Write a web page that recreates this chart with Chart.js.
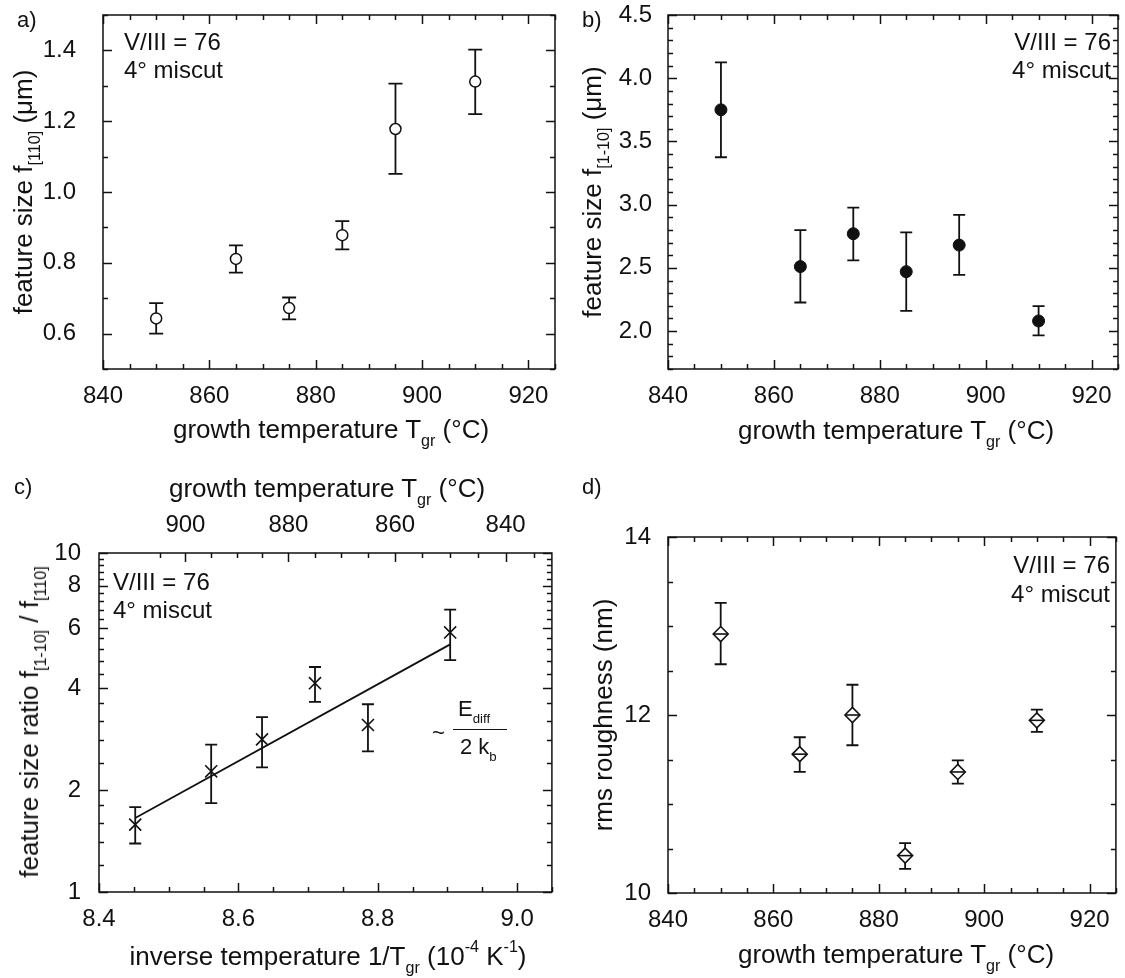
<!DOCTYPE html>
<html>
<head>
<meta charset="utf-8">
<script src="https://cdn.jsdelivr.net/npm/chart.js@4.4.1/dist/chart.umd.min.js"></script>
<style>
html, body { margin: 0; padding: 0; background: #fff; }
#wrap { position: relative; width: 1125px; height: 978px; overflow: hidden;
        font-family: "Liberation Sans", Arial, sans-serif; color: #111; }
#wrap canvas { position: absolute; }
.t { position: absolute; white-space: nowrap; line-height: 1; }
.sb { font-size: 62%; position: relative; top: 0.5em; }
.sp { font-size: 62%; position: relative; top: -0.8em; }
</style>
</head>
<body>
<div id="wrap">
  <canvas id="chartA" width="562" height="420" style="left:0;top:0"></canvas>
  <canvas id="chartB" width="563" height="420" style="left:562px;top:0"></canvas>
  <canvas id="chartC" width="562" height="470" style="left:0;top:470px"></canvas>
  <canvas id="chartD" width="563" height="470" style="left:562px;top:470px"></canvas>
</div>
<script>
// growth temperatures (°C)
const tempC = [850, 865, 875, 885, 895, 910];

// a) feature size along [110] (µm)
const f110   = [0.643, 0.811, 0.672, 0.878, 1.178, 1.312];
const f110Lo = [0.600, 0.772, 0.640, 0.838, 1.051, 1.220];
const f110Hi = [0.686, 0.849, 0.702, 0.918, 1.306, 1.402];

// b) feature size along [1-10] (µm)
const f1m10   = [3.75, 2.51, 2.77, 2.47, 2.68, 2.08];
const f1m10Lo = [3.375, 2.226, 2.559, 2.160, 2.444, 1.966];
const f1m10Hi = [4.126, 2.798, 2.976, 2.780, 2.919, 2.197];

// c) ratio vs inverse temperature (1e-4 K^-1)
const invT    = [8.904, 8.786, 8.710, 8.634, 8.561, 8.452];
const ratio   = [5.83, 3.11, 4.13, 2.82, 2.27, 1.58];
const ratioLo = [4.83, 2.60, 3.64, 2.33, 1.83, 1.39];
const ratioHi = [6.81, 3.58, 4.61, 3.28, 2.72, 1.78];
const fitX = [8.452, 8.904];
const fitY = [1.654, 5.376];

// d) rms roughness (nm)
const rms   = [12.91, 11.56, 12.00, 10.42, 11.36, 11.94];
const rmsLo = [12.57, 11.36, 11.66, 10.27, 11.23, 11.81];
const rmsHi = [13.26, 11.75, 12.34, 10.56, 11.49, 12.06];

// tick labels
const tempTicks = [840, 860, 880, 900, 920];
const topTempTicks = [900, 880, 860, 840];
const aYTicks = [0.6, 0.8, 1.0, 1.2, 1.4];
const bYTicks = [2.0, 2.5, 3.0, 3.5, 4.0, 4.5];
const cXTicks = [8.4, 8.6, 8.8, 9.0];
const cYTicks = [1, 2, 4, 6, 8, 10];
const dYTicks = [10, 12, 14];

const INK = '#111';
const FONT = '"Liberation Sans", Arial, sans-serif';

function steps(from, to, step) {
    const out = [];
    for (let v = from; v <= to + 1e-9; v += step) out.push(+v.toFixed(4));
    return out;
}
// four evenly spaced minor ticks between each pair of majors
function between(majors, n) {
    const out = [];
    for (let i = 0; i < majors.length - 1; i++) {
        const a = majors[i], b = majors[i + 1];
        for (let k = 1; k <= n; k++) out.push(a + (b - a) * k / (n + 1));
    }
    return out;
}
const toInv = t => 1e4 / (t + 273.15);

// error bars drawn behind the markers
const errorBars = {
    id: 'errorBars',
    beforeDatasetsDraw(chart) {
        const ctx = chart.ctx;
        chart.data.datasets.forEach(ds => {
            if (!ds.errLo) return;
            const xs = chart.scales.x, ys = chart.scales.y;
            const cap = ds.capHalf || 6;
            ctx.save();
            ctx.strokeStyle = INK;
            ctx.lineWidth = 1.8;
            ds.data.forEach((pt, j) => {
                const x = xs.getPixelForValue(pt.x);
                const y1 = ys.getPixelForValue(ds.errLo[j]);
                const y2 = ys.getPixelForValue(ds.errHi[j]);
                ctx.beginPath();
                ctx.moveTo(x, y1); ctx.lineTo(x, y2);
                ctx.moveTo(x - cap, y1); ctx.lineTo(x + cap, y1);
                ctx.moveTo(x - cap, y2); ctx.lineTo(x + cap, y2);
                ctx.stroke();
            });
            ctx.restore();
        });
    }
};

// box frame with inward ticks on every side
const frame = {
    id: 'frame',
    afterDatasetsDraw(chart, args, opts) {
        const { ctx, chartArea: a } = chart;
        ctx.save();
        ctx.strokeStyle = INK;
        ctx.lineWidth = 1.5;
        ctx.strokeRect(a.left, a.top, a.right - a.left, a.bottom - a.top);
        (opts.axes || []).forEach(ax => {
            const s = chart.scales[ax.id];
            const draw = (vals, len) => vals.forEach(v => {
                const p = Math.round(s.getPixelForValue(v)) + 0.5;
                ax.edges.forEach(e => {
                    ctx.beginPath();
                    if (e === 'bottom') { ctx.moveTo(p, a.bottom); ctx.lineTo(p, a.bottom - len); }
                    if (e === 'top') { ctx.moveTo(p, a.top); ctx.lineTo(p, a.top + len); }
                    if (e === 'left') { ctx.moveTo(a.left, p); ctx.lineTo(a.left + len, p); }
                    if (e === 'right') { ctx.moveTo(a.right, p); ctx.lineTo(a.right - len, p); }
                    ctx.stroke();
                });
            });
            draw(ax.major, 9);
            draw(ax.minor, 5);
        });
        ctx.restore();
    }
};

function axis(opts) {
    const vals = opts.ticks;
    return {
        type: opts.type || 'linear',
        position: opts.position,
        min: opts.min,
        max: opts.max,
        grid: { display: false },
        border: { display: false },
        ticks: {
            color: INK,
            font: { family: FONT, size: 24 },
            padding: opts.padding,
            autoSkip: false,
            maxRotation: 0,
            callback: opts.format
        },
        afterBuildTicks: s => { s.ticks = vals.map(v => ({ value: v })); },
        afterFit: s => {
            if (opts.width !== undefined) s.width = opts.width;
            if (opts.height !== undefined) s.height = opts.height;
            // keep the plot box exactly where the layout puts it
            s.paddingTop = s.paddingBottom = s.paddingLeft = s.paddingRight = 0;
        }
    };
}

function makeChart(id, padding, scales, datasets, axesTicks) {
    return new Chart(document.getElementById(id), {
        type: 'scatter',
        data: { datasets },
        options: {
            responsive: false,
            animation: false,
            events: [],
            layout: { padding },
            plugins: {
                legend: { display: false },
                tooltip: { enabled: false },
                frame: { axes: axesTicks }
            },
            scales
        },
        plugins: [errorBars, frame]
    });
}

const pts = (xs, ys) => xs.map((x, i) => ({ x, y: ys[i] }));
const tempMinor = steps(840, 925, 5).filter(v => v % 20 !== 0);
const tempFmt = v => String(v);

// a)
makeChart('chartA', { top: 15, right: 3, left: 0, bottom: 0 }, {
    x: axis({ position: 'bottom', min: 840, max: 925, ticks: tempTicks, format: tempFmt, padding: 5, height: 51 }),
    y: axis({ position: 'left', min: 0.5, max: 1.5, ticks: aYTicks, format: v => v.toFixed(1), padding: 19, width: 103 })
}, [{
    data: pts(tempC, f110), errLo: f110Lo, errHi: f110Hi, capHalf: 7,
    pointStyle: 'circle', pointRadius: 5.5, pointBackgroundColor: '#fff',
    pointBorderColor: INK, pointBorderWidth: 1.5
}], [
    { id: 'x', edges: ['bottom', 'top'], major: tempTicks, minor: tempMinor },
    { id: 'y', edges: ['left', 'right'], major: aYTicks, minor: [0.5, 0.7, 0.9, 1.1, 1.3, 1.5] }
]);

// b)
makeChart('chartB', { top: 15, right: 1, left: 0, bottom: 0 }, {
    x: axis({ position: 'bottom', min: 840, max: 925, ticks: tempTicks, format: tempFmt, padding: 5, height: 51 }),
    y: axis({ position: 'left', min: 1.7, max: 4.5, ticks: bYTicks, format: v => v.toFixed(1), padding: 8, width: 106 })
}, [{
    data: pts(tempC, f1m10), errLo: f1m10Lo, errHi: f1m10Hi, capHalf: 6,
    pointStyle: 'circle', pointRadius: 6, pointBackgroundColor: INK,
    pointBorderColor: INK, pointBorderWidth: 1
}], [
    { id: 'x', edges: ['bottom', 'top'], major: tempTicks, minor: tempMinor },
    { id: 'y', edges: ['left', 'right'], major: bYTicks, minor: steps(1.7, 4.5, 0.1).filter(v => Math.abs(v * 2 - Math.round(v * 2)) > 1e-6) }
]);

// c)
makeChart('chartC', { top: 0, right: 6, left: 0, bottom: 0 }, {
    x: axis({ position: 'bottom', min: 8.4, max: 9.05, ticks: cXTicks, format: v => v.toFixed(1), padding: 5, height: 48 }),
    x2: axis({ position: 'top', min: 8.4, max: 9.05, ticks: topTempTicks.map(toInv),
        format: (v, i) => String(topTempTicks[i]), padding: 5, height: 83 }),
    y: axis({ type: 'logarithmic', position: 'left', min: 1, max: 10, ticks: cYTicks, format: v => String(v), padding: 10, width: 99 })
}, [{
    type: 'line', data: pts(fitX, fitY), borderColor: INK, borderWidth: 1.8,
    pointRadius: 0, order: 2
}, {
    data: pts(invT, ratio), errLo: ratioLo, errHi: ratioHi, capHalf: 6, order: 1,
    pointStyle: 'crossRot', pointRadius: 8.5, pointBorderColor: INK, pointBorderWidth: 1.6
}], [
    { id: 'x', edges: ['bottom'], major: cXTicks, minor: steps(8.45, 9.05, 0.05).filter(v => Math.abs(v * 5 - Math.round(v * 5)) > 1e-6) },
    { id: 'x2', edges: ['top'], major: topTempTicks.map(toInv), minor: steps(835, 905, 5).filter(v => v % 20 !== 0).map(toInv).filter(v => v >= 8.4 && v <= 9.05) },
    { id: 'y', edges: ['left', 'right'], major: cYTicks, minor: between(cYTicks, 4) }
]);

// d)
makeChart('chartD', { top: 67, right: 1, left: 0, bottom: 0 }, {
    x: axis({ position: 'bottom', min: 840, max: 925, ticks: tempTicks, format: tempFmt, padding: 5, height: 47 }),
    y: axis({ position: 'left', min: 10, max: 14, ticks: dYTicks, format: v => String(v), padding: 9, width: 106 })
}, [{
    data: pts(tempC, rms), pointStyle: 'line', pointRadius: 7,
    pointBorderColor: INK, pointBorderWidth: 1.6, order: 0
}, {
    data: pts(tempC, rms), errLo: rmsLo, errHi: rmsHi, capHalf: 6, order: 1,
    pointStyle: 'rectRot', pointRadius: 7.5, pointBackgroundColor: '#fff',
    pointBorderColor: INK, pointBorderWidth: 1.6
}], [
    { id: 'x', edges: ['bottom', 'top'], major: tempTicks, minor: tempMinor },
    { id: 'y', edges: ['left', 'right'], major: dYTicks, minor: [10.5, 11, 11.5, 12.5, 13, 13.5] }
]);

// ---- text: panel letters, axis titles, annotations ----
const wrap = document.getElementById('wrap');
const ASC = 0.8465;

function addText(html, x, base, size, align) {
    const d = document.createElement('div');
    d.className = 't';
    d.innerHTML = html;
    d.style.fontSize = size + 'px';
    d.style.left = x + 'px';
    d.style.top = (base - ASC * size) + 'px';
    if (align === 'center') d.style.transform = 'translateX(-50%)';
    if (align === 'right') d.style.transform = 'translateX(-100%)';
    wrap.appendChild(d);
}

function addVText(html, cx, cy, size) {
    const d = document.createElement('div');
    d.className = 't';
    d.innerHTML = html;
    d.style.fontSize = size + 'px';
    d.style.left = cx + 'px';
    d.style.top = cy + 'px';
    d.style.transform = 'translate(-50%, -50%) rotate(-90deg)';
    wrap.appendChild(d);
}

const tgr = 'growth temperature T<span class="sb">gr</span> (°C)';

addText('a)', 17, 28, 22);
addText('b)', 582, 28, 22);
addText('c)', 14, 495, 22);
addText('d)', 582, 495, 22);

addText(tgr, 331, 438, 26, 'center');
addText(tgr, 896, 439, 26, 'center');
addText(tgr, 327, 497, 26, 'center');
addText('inverse temperature 1/T<span class="sb">gr</span> (10<span class="sp">-4</span> K<span class="sp">-1</span>)', 328, 965, 26, 'center');
addText(tgr, 896, 963, 26, 'center');

addVText('feature size f<span class="sb">[110]</span> (μm)', 23, 192, 26);
addVText('feature size f<span class="sb">[1-10]</span> (μm)', 592, 192, 26);
addVText('feature size ratio f<span class="sb">[1-10]</span> / f<span class="sb">[110]</span>', 29, 722, 26);
addVText('rms roughness (nm)', 603, 715, 26);

addText('V/III = 76', 124, 50, 24);
addText('4° miscut', 124, 78, 24);
addText('V/III = 76', 1111, 50, 24, 'right');
addText('4° miscut', 1111, 78, 24, 'right');
addText('V/III = 76', 113, 590, 24);
addText('4° miscut', 113, 618, 24);
addText('V/III = 76', 1110, 573, 24, 'right');
addText('4° miscut', 1110, 602, 24, 'right');

// activation-energy slope label
addText('~', 432, 741, 22);
addText('E<span class="sb" style="font-size:60%">diff</span>', 458, 717, 22);
addText('2 k<span class="sb" style="font-size:60%">b</span>', 460, 755, 22);
const bar = document.createElement('div');
bar.style.cssText = 'position:absolute;left:453px;top:728.5px;width:54px;height:0;border-top:1.5px solid #111;';
wrap.appendChild(bar);
</script>
</body>
</html>
